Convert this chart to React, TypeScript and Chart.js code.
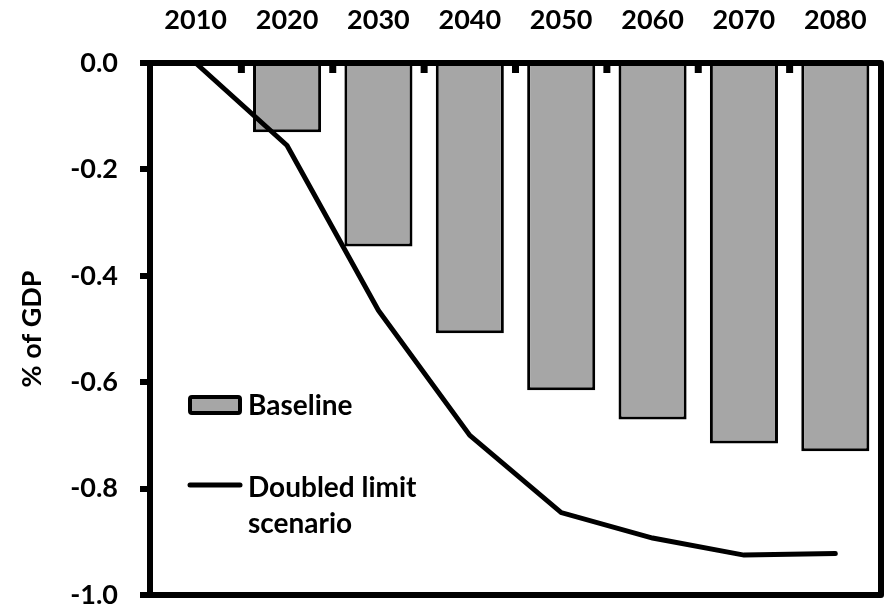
import React, { useEffect, useRef } from "react";
import { Chart, registerables } from "chart.js";

Chart.register(...registerables);

const YEARS = ["2010", "2020", "2030", "2040", "2050", "2060", "2070", "2080"];
const BASELINE = [-0.005, -0.13, -0.345, -0.508, -0.615, -0.67, -0.715, -0.73];
const DOUBLED = [0, -0.155, -0.465, -0.7, -0.845, -0.893, -0.925, -0.922];
const SERIES_NAMES = ["Baseline", "Doubled limit\nscenario"];
const Y_TICKS = [0, -0.2, -0.4, -0.6, -0.8, -1.0];
const Y_TITLE = "% of GDP";

const FONT = "Lato, 'Open Sans', sans-serif";
const BAR_FILL = "#a6a6a6";

const framePlugin = {
  id: "frame",
  afterDatasetsDraw(chart: any) {
    const { ctx, chartArea: a, scales } = chart;
    const xs = scales.x;
    ctx.save();
    // plot border
    ctx.strokeStyle = "#000";
    ctx.lineWidth = 6;
    ctx.lineJoin = "round";
    ctx.strokeRect(a.left, a.top, a.right - a.left, a.bottom - a.top);
    // inner tick marks at category boundaries along the top axis
    ctx.fillStyle = "#000";
    for (let i = 1; i < YEARS.length; i++) {
      const bx = (xs.getPixelForValue(i - 1) + xs.getPixelForValue(i)) / 2;
      ctx.fillRect(bx - 3.5, a.top, 7, 10);
    }
    // legend
    const lx = a.left + 38;
    const tx = a.left + 98;
    const y1 = a.top + 342;
    const y2 = a.top + 422;
    ctx.font = `bold 28px ${FONT}`;
    ctx.textBaseline = "middle";
    ctx.textAlign = "left";
    // bar swatch
    ctx.fillStyle = BAR_FILL;
    ctx.strokeStyle = "#000";
    ctx.lineWidth = 4;
    ctx.beginPath();
    (ctx as any).roundRect(lx + 2, y1 - 8, 50, 16, 2);
    ctx.fill();
    ctx.stroke();
    ctx.fillStyle = "#000";
    ctx.fillText(SERIES_NAMES[0], tx, y1 + 1);
    // line swatch
    ctx.lineWidth = 5;
    ctx.lineCap = "round";
    ctx.beginPath();
    ctx.moveTo(lx + 2, y2);
    ctx.lineTo(lx + 52, y2);
    ctx.stroke();
    const lines = SERIES_NAMES[1].split("\n");
    lines.forEach((t, i) => ctx.fillText(t, tx, y2 + 3 + i * 36));
    ctx.restore();
  },
};

export default function App() {
  const ref = useRef<HTMLCanvasElement | null>(null);
  useEffect(() => {
    document.body.style.margin = "0";
    const canvas = ref.current!;
    const chart = new Chart(canvas, {
      type: "bar",
      data: {
        labels: YEARS,
        datasets: [
          {
            type: "line",
            label: SERIES_NAMES[1],
            data: DOUBLED,
            borderColor: "#000",
            borderWidth: 5,
            pointRadius: 0,
            tension: 0,
            borderCapStyle: "round",
            fill: false,
            order: 0,
            clip: false as any,
          } as any,
          {
            type: "bar",
            label: SERIES_NAMES[0],
            data: BASELINE,
            backgroundColor: BAR_FILL,
            borderColor: "#000",
            borderWidth: 3,
            barPercentage: 0.745,
            categoryPercentage: 1,
            order: 1,
          },
        ],
      },
      options: {
        responsive: false,
        animation: false,
        devicePixelRatio: 1,
        layout: { padding: { left: 0, right: 14, top: 0, bottom: 15 } },
        plugins: {
          legend: { display: false },
          tooltip: { enabled: false },
        },
        scales: {
          x: {
            position: "top",
            grid: { display: false, drawTicks: false },
            border: { display: false },
            ticks: {
              color: "#000",
              font: { family: FONT, size: 27, weight: "bold" },
              padding: 27,
              maxRotation: 0,
            },
            afterFit: (s: any) => {
              s.height = 63;
              s.paddingLeft = 0;
              s.paddingRight = 0;
            },
          },
          y: {
            min: -1,
            max: 0,
            border: { display: false },
            grid: {
              drawOnChartArea: false,
              drawTicks: true,
              tickLength: 10,
              lineWidth: 6,
              color: "#000",
            },
            afterBuildTicks: (s: any) => {
              s.ticks = Y_TICKS.map((v) => ({ value: v }));
            },
            ticks: {
              color: "#000",
              font: { family: FONT, size: 27, weight: "bold" },
              padding: 22,
              callback: (v: any) => Number(v).toFixed(1),
            },
            title: {
              display: true,
              text: Y_TITLE,
              color: "#000",
              font: { family: FONT, size: 27, weight: "bold" },
              padding: { top: 16, bottom: 0 },
            },
            afterFit: (s: any) => {
              s.width = 150;
              s.paddingTop = 0;
              s.paddingBottom = 0;
            },
          },
        },
      },
      plugins: [framePlugin],
    });
    return () => chart.destroy();
  }, []);
  return (
    <div style={{ width: 895, height: 610, background: "#fff" }}>
      <canvas ref={ref} width={895} height={610} style={{ display: "block" }} />
    </div>
  );
}
